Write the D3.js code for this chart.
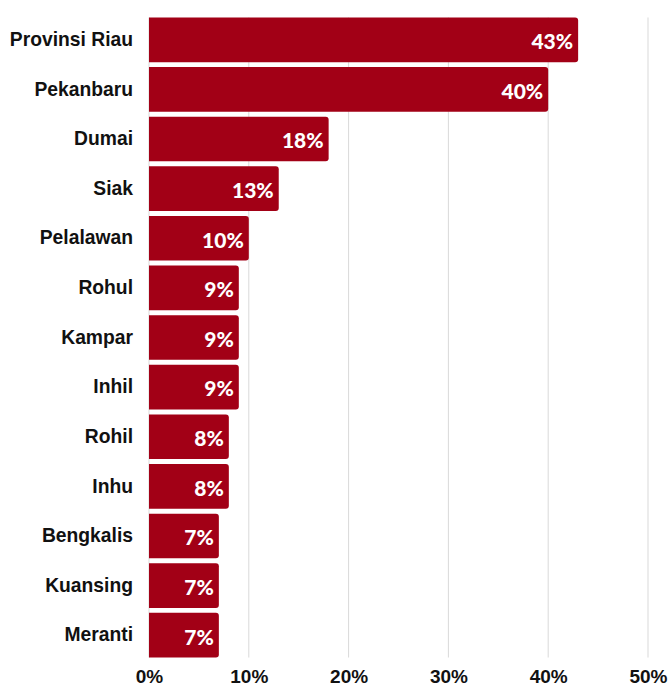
<!DOCTYPE html>
<html>
<head>
<meta charset="utf-8">
<script src="https://cdn.jsdelivr.net/npm/d3@7"></script>
<style>
  html, body { margin: 0; padding: 0; background: #fff; }
  svg { display: block; }
</style>
</head>
<body>
<svg id="chart" width="670" height="686"></svg>
<script>
// Share per region (percent)
const regions = ["Provinsi Riau", "Pekanbaru", "Dumai", "Siak", "Pelalawan", "Rohul",
                 "Kampar", "Inhil", "Rohil", "Inhu", "Bengkalis", "Kuansing", "Meranti"];
const shares = [43, 40, 18, 13, 10, 9, 9, 9, 8, 8, 7, 7, 7];
const tickValues = [0, 10, 20, 30, 40, 50];

const svg = d3.select("#chart");
const barColor = "#A20016";

const x = d3.scaleLinear().domain([0, 50]).range([149, 648]);
const y = d3.scaleBand().domain(regions).range([15, 660])
  .paddingInner(0.1).paddingOuter(0.05);

const [y0, y1] = [y(regions[0]), y(regions[regions.length - 1]) + y.bandwidth()];

// vertical gridlines
svg.append("g").selectAll("line").data(tickValues).join("line")
  .attr("x1", d => x(d)).attr("x2", d => x(d))
  .attr("y1", y0).attr("y2", y1)
  .attr("stroke", "#d9d9d9").attr("stroke-width", 1);

// bars with rounded right end
const r = 3;
svg.append("g").selectAll("path").data(regions).join("path")
  .attr("fill", barColor)
  .attr("d", (d, i) => {
    const x0 = x(0), x1 = x(shares[i]), top = y(d), h = y.bandwidth();
    return `M${x0},${top}H${x1 - r}Q${x1},${top} ${x1},${top + r}` +
           `V${top + h - r}Q${x1},${top + h} ${x1 - r},${top + h}H${x0}Z`;
  });

// value labels inside bars
svg.append("g").selectAll("text").data(regions).join("text")
  .attr("x", (d, i) => x(shares[i]) - 5)
  .attr("y", d => y(d) + y.bandwidth() / 2 + 2)
  .attr("dy", "0.35em")
  .attr("text-anchor", "end")
  .attr("fill", "#fff")
  .attr("font-family", "Lato, 'Open Sans', sans-serif")
  .attr("font-weight", 900)
  .attr("font-size", 21)
  .text((d, i) => shares[i] + "%");

// category labels
const yAxis = d3.axisLeft(y).tickSize(0).tickPadding(0);
svg.append("g").attr("transform", "translate(133,0)").call(yAxis)
  .call(g => g.select(".domain").remove())
  .selectAll("text")
  .attr("font-family", "'Liberation Sans', Arial, sans-serif")
  .attr("font-weight", "bold")
  .attr("font-size", 19.3)
  .attr("fill", "#111");

// x axis tick labels
const xAxis = d3.axisBottom(x).tickValues(tickValues).tickFormat(d => d + "%")
  .tickSize(0).tickPadding(0);
svg.append("g").call(xAxis)
  .call(g => g.select(".domain").remove())
  .selectAll("text")
  .attr("y", 683)
  .attr("dy", "0")
  .attr("font-family", "'Liberation Sans', Arial, sans-serif")
  .attr("font-weight", "bold")
  .attr("font-size", 19)
  .attr("fill", "#111");
</script>
</body>
</html>
